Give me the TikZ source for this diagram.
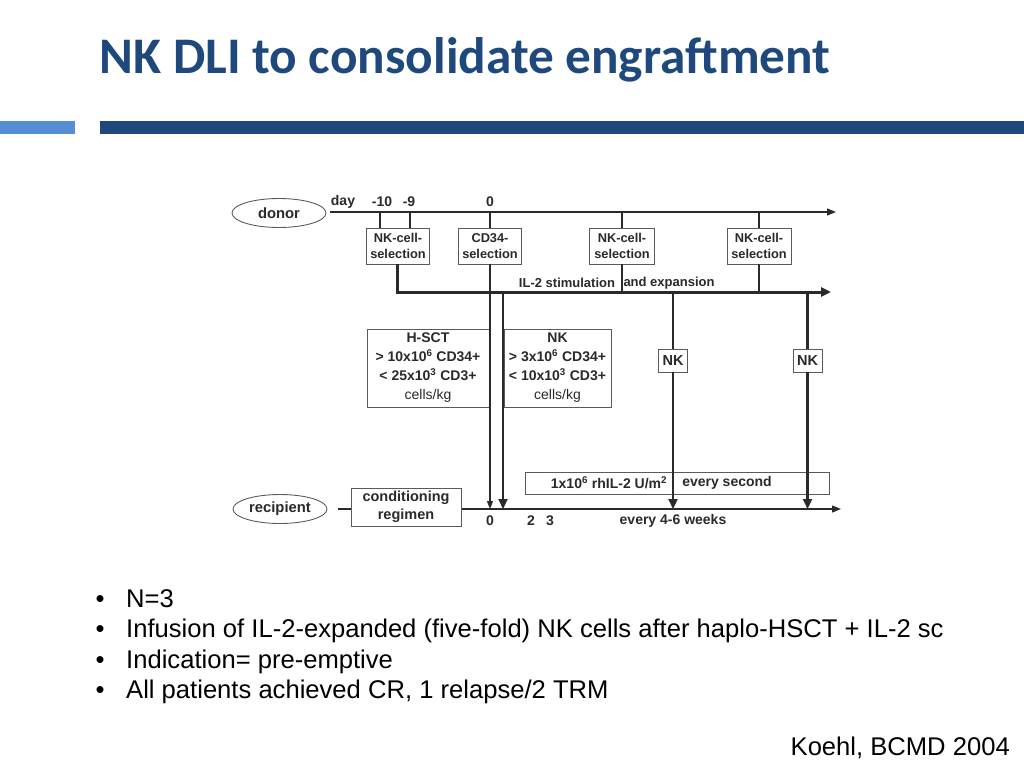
\documentclass[tikz,border=0pt]{standalone}
\usepackage{fontspec}
\setmainfont{Liberation Sans}
\newfontfamily\titlefont{Carlito}
\usetikzlibrary{arrows.meta,shapes.geometric}
\definecolor{titleblue}{RGB}{31,73,125}
\definecolor{lightbar}{RGB}{85,142,213}
\definecolor{dgray}{RGB}{42,42,42}
\definecolor{bgray}{RGB}{90,90,90}
\begin{document}
\begin{tikzpicture}[x=1pt,y=-1pt,
  fs/.style 2 args={font=\fontsize{#1}{#2}\selectfont\bfseries},
  box/.style={draw=bgray,line width=0.9pt,fill=white,text=dgray,align=center,inner sep=0pt},
  oval/.style={ellipse,draw=bgray,line width=0.9pt,minimum width=94pt,minimum height=29pt,inner sep=0pt,text=dgray,fs={14.8}{15}},
  lab/.style={text=dgray,inner sep=0pt},
  tline/.style={draw=dgray,line width=1.3pt},
  medline/.style={draw=dgray,line width=2.2pt},
  heavyline/.style={draw=dgray,line width=3pt},
  arrowS/.style={-{Triangle[length=9pt,width=7pt]}},
  arrowD/.style={-{Triangle[length=8pt,width=6pt]}},
  arrowT/.style={-{Triangle[length=10pt,width=9pt]}},
  bullettext/.style={anchor=base west,inner sep=0pt,font=\fontsize{25.6}{30}\selectfont},
  bulletdot/.style={anchor=base,inner sep=0pt,font=\fontsize{25.6}{30}\selectfont}
]
\useasboundingbox (0,0) rectangle (1024,768);

% header
\node[anchor=base west,inner sep=0pt,text=titleblue,font=\titlefont\bfseries\fontsize{51.3}{60}\selectfont] (title) at (99.5,73) {NK DLI to consolidate engraftment};
\fill[lightbar] (0,121) rectangle (75,134);
\fill[titleblue] (100,121) rectangle (1024,134);

% donor timeline
\node[oval] (donor) at (279,213) {donor};
\coordinate (dS) at (330,212);
\coordinate (dE) at (836,212);
\draw[tline,arrowS] (dS) -- (dE);
\node[lab,fs={14}{14}] (day) at (343,202) {day};
\node[lab,fs={14}{14}] (d10) at (382,202) {-10};
\node[lab,fs={14}{14}] (d9) at (409,202) {-9};
\node[lab,fs={14}{14}] (d0) at (490,202) {0};

% selection boxes
\node[box,fs={12.8}{16},minimum width=63pt,minimum height=36pt] (s1) at (398,246) {NK-cell-\\selection};
\node[box,fs={12.8}{16},minimum width=63pt,minimum height=36pt] (s2) at (490,246) {CD34-\\selection};
\node[box,fs={12.8}{16},minimum width=65pt,minimum height=36pt] (s3) at (622,246) {NK-cell-\\selection};
\node[box,fs={12.8}{16},minimum width=64pt,minimum height=36pt] (s4) at (759,246) {NK-cell-\\selection};

\coordinate (m10) at (380,212);
\coordinate (m9) at (410,212);
\draw[medline] (m10) -- (m10 |- s1.north);
\draw[medline] (m9) -- (m9 |- s1.north);
\draw[tline] (s2.north |- dS) -- (s2.north);
\draw[tline] (s3.north |- dS) -- (s3.north);
\draw[tline] (s4.north |- dS) -- (s4.north);

% expansion line
\coordinate (eS) at (397,292);
\coordinate (eE) at (831,292);
\draw[heavyline,arrowT] (s1.south -| eS) -- (eS) -- (eE);
\draw[tline] (s3.south) -- (s3.south |- eS);
\draw[tline] (s4.south) -- (s4.south |- eS);
\node[lab,fs={13}{13}] (il2a) at (567,283) {IL-2 stimulation};
\node[lab,fs={13}{13}] (il2b) at (669,283) {and expansion};

% graft boxes
\node[box,fs={14}{19},minimum width=122pt,minimum height=78pt] (hsct) at (428,368)
  {H-SCT\\> 10x10\textsuperscript{6} CD34+\\< 25x10\textsuperscript{3} CD3+\\{\mdseries cells/kg}};
\node[box,fs={14}{19},minimum width=107pt,minimum height=78pt] (nkb) at (557.5,368)
  {NK\\> 3x10\textsuperscript{6} CD34+\\< 10x10\textsuperscript{3} CD3+\\{\mdseries cells/kg}};

% NK infusions
\node[box,fs={14.5}{14.5},minimum width=29pt,minimum height=23pt] (nk1) at (673,360.5) {NK};
\node[box,fs={14.5}{14.5},minimum width=29pt,minimum height=23pt] (nk2) at (807.5,360.5) {NK};

% rhIL-2 box
\node[box,minimum width=304pt,minimum height=22pt] (rh) at (677,483) {};
\node[lab,fs={14}{14}] (rha) at (609,483) {1x10\textsuperscript{6} rhIL-2 U/m\textsuperscript{2}};
\node[lab,fs={14}{14}] (rhb) at (727,483) {every second};

% recipient timeline
\node[oval] (recip) at (280,509) {recipient};
\coordinate (rS) at (338,509);
\coordinate (rE) at (841,509);
\draw[tline,arrowS] (rS) -- (rE);
\node[box,fs={14.5}{18},minimum width=110pt,minimum height=38pt] (cond) at (406,507) {conditioning\\regimen};

% down arrows
\draw[tline,arrowD] (s2.south) -- (s2.south |- rS);
\coordinate (k0) at (503,292);
\draw[medline,arrowT] (k0) -- (k0 |- rS);
\draw[medline] (nk1 |- eS) -- (nk1.north);
\draw[medline,arrowT] (nk1.south) -- (nk1 |- rS);
\draw[medline] (nk2 |- eS) -- (nk2.north);
\draw[medline,arrowT] (nk2.south) -- (nk2 |- rS);

% bottom labels
\node[lab,fs={14}{14}] (r0) at (490,521) {0};
\node[lab,fs={14}{14}] (r2) at (531,521) {2};
\node[lab,fs={14}{14}] (r3) at (550,521) {3};
\node[lab,fs={14}{14}] (rw) at (673,521) {every 4-6 weeks};

% bullets
\node[bulletdot] (b1) at (100,607) {•};
\node[bullettext] (t1) at (126,607) {N=3};
\node[bulletdot] (b2) at (100,637.5) {•};
\node[bullettext] (t2) at (126,637.5) {Infusion of IL-2-expanded (five-fold) NK cells after haplo-HSCT + IL-2 sc};
\node[bulletdot] (b3) at (100,668) {•};
\node[bullettext] (t3) at (126,668) {Indication= pre-emptive};
\node[bulletdot] (b4) at (100,698.5) {•};
\node[bullettext] (t4) at (126,698.5) {All patients achieved CR, 1 relapse/2 TRM};

\node[anchor=base east,inner sep=0pt,font=\fontsize{25.6}{30}\selectfont] (ref) at (1010,755) {Koehl, BCMD 2004};
\end{tikzpicture}
\end{document}
